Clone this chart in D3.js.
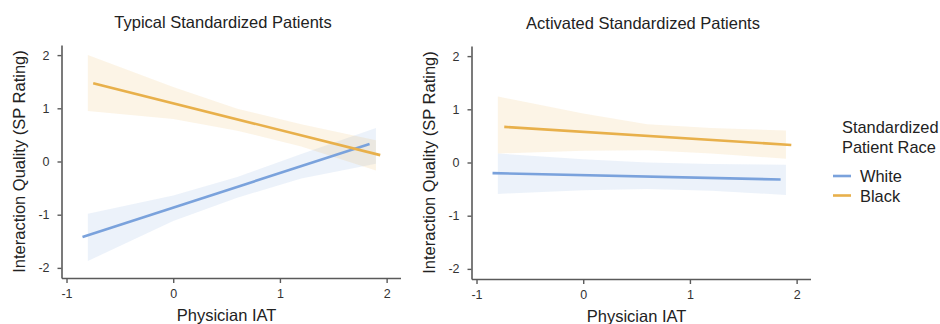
<!DOCTYPE html>
<html>
<head>
<meta charset="utf-8">
<script src="https://cdn.jsdelivr.net/npm/d3@7"></script>
<style>
  body { margin: 0; background: #fff; }
  svg { display: block; font-family: "Liberation Sans", Arial, sans-serif; }
</style>
</head>
<body>
<svg id="chart" width="940" height="324"></svg>
<script>
// data
var iatTicks = [-1, 0, 1, 2];
var qualityTicks = [-2, -1, 0, 1, 2];
var races = ["White", "Black"];
var panelTitles = ["Typical Standardized Patients", "Activated Standardized Patients"];

// confidence bands: IAT positions, lower / upper bound
var bandX = [-0.8, 0, 0.6, 1.2, 1.9];
var typicalWhiteLower = [-1.87, -1.12, -0.68, -0.32, -0.04];
var typicalWhiteUpper = [-0.98, -0.64, -0.29, 0.14, 0.63];
var typicalBlackLower = [0.95, 0.80, 0.58, 0.28, -0.17];
var typicalBlackUpper = [2.00, 1.40, 0.99, 0.70, 0.40];
var activatedWhiteLower = [-0.59, -0.52, -0.50, -0.53, -0.61];
var activatedWhiteUpper = [0.17, 0.06, 0.00, -0.03, -0.04];
var activatedBlackLower = [0.17, 0.22, 0.23, 0.17, 0.07];
var activatedBlackUpper = [1.24, 0.92, 0.72, 0.65, 0.60];

// fitted lines: [iat, quality] end points
var typicalWhiteLine = [[-0.85, -1.42], [1.84, 0.33]];
var typicalBlackLine = [[-0.75, 1.47], [1.94, 0.12]];
var activatedWhiteLine = [[-0.85, -0.20], [1.85, -0.32]];
var activatedBlackLine = [[-0.74, 0.67], [1.95, 0.33]];

var colors = { White: "#7aa2dc", Black: "#e8b04b" };

var svg = d3.select("#chart");

var plotW = 339, plotH = 233;
var x = d3.scaleLinear().domain([-1.047, 2.13]).range([0, plotW]);
var y = d3.scaleLinear().domain([-2.19, 2.19]).range([plotH, 0]);

function bandRows(lower, upper) {
    return bandX.map(function(v, i) { return { x: v, lo: lower[i], hi: upper[i] }; });
}

var area = d3.area()
    .x(function(d) { return x(d.x); })
    .y0(function(d) { return y(d.lo); })
    .y1(function(d) { return y(d.hi); });

var line = d3.line()
    .x(function(d) { return x(d[0]); })
    .y(function(d) { return y(d[1]); });

function drawPanel(left, top, title, titleX, bands, lines) {
    var g = svg.append("g").attr("transform", "translate(" + left + "," + top + ")");

    bands.forEach(function(b) {
        g.append("path")
            .datum(b.rows)
            .attr("d", area)
            .attr("fill", colors[b.race])
            .attr("fill-opacity", 0.14);
    });

    lines.forEach(function(l) {
        g.append("path")
            .datum(l.pts)
            .attr("d", line)
            .attr("fill", "none")
            .attr("stroke", colors[l.race])
            .attr("stroke-width", 2.6);
    });

    var yAxis = g.append("g")
        .call(d3.axisLeft(y).tickValues(qualityTicks).tickSize(4).tickSizeOuter(0).tickPadding(8)
            .tickFormat(function(d) { return String(d); }));
    var xAxis = g.append("g")
        .attr("transform", "translate(0," + plotH + ")")
        .call(d3.axisBottom(x).tickValues(iatTicks).tickSize(5).tickSizeOuter(0).tickPadding(6)
            .tickFormat(function(d) { return String(d); }));

    [yAxis, xAxis].forEach(function(a) {
        a.select(".domain").attr("stroke", "#5a5a5a").attr("stroke-width", 1.6);
        a.selectAll(".tick line").attr("stroke", "#5a5a5a").attr("stroke-width", 1.4);
        a.selectAll(".tick text").attr("fill", "#333").style("font-size", "12.5px")
            .style("font-family", "'Liberation Sans', Arial, sans-serif");
    });

    // panel title, centred a little off the plot middle as in the figure
    g.append("text")
        .attr("x", titleX - left)
        .attr("y", -17)
        .attr("text-anchor", "middle")
        .attr("fill", "#222")
        .style("font-size", "16.5px")
        .text(title);

    g.append("text")
        .attr("transform", "translate(-37," + (plotH / 2) + ") rotate(-90)")
        .attr("text-anchor", "middle")
        .attr("fill", "#222")
        .style("font-size", "16.5px")
        .text("Interaction Quality (SP Rating)");

    g.append("text")
        .attr("x", x(0.5))
        .attr("y", plotH + 43)
        .attr("text-anchor", "middle")
        .attr("fill", "#222")
        .style("font-size", "16.5px")
        .text("Physician IAT");
}

drawPanel(61.5, 45, panelTitles[0], 223,
    [{ race: "White", rows: bandRows(typicalWhiteLower, typicalWhiteUpper) },
     { race: "Black", rows: bandRows(typicalBlackLower, typicalBlackUpper) }],
    [{ race: "White", pts: typicalWhiteLine },
     { race: "Black", pts: typicalBlackLine }]);

drawPanel(471.5, 46, panelTitles[1], 643,
    [{ race: "White", rows: bandRows(activatedWhiteLower, activatedWhiteUpper) },
     { race: "Black", rows: bandRows(activatedBlackLower, activatedBlackUpper) }],
    [{ race: "White", pts: activatedWhiteLine },
     { race: "Black", pts: activatedBlackLine }]);

// legend
var legend = svg.append("g").attr("transform", "translate(842,0)");
legend.append("text").attr("x", 0).attr("y", 132.5).attr("fill", "#222")
    .style("font-size", "16.4px").text("Standardized");
legend.append("text").attr("x", 0).attr("y", 152.5).attr("fill", "#222")
    .style("font-size", "16.4px").text("Patient Race");

var item = legend.selectAll("g.item")
    .data(races)
    .enter().append("g")
    .attr("class", "item")
    .attr("transform", function(d, i) { return "translate(0," + (176 + i * 19.5) + ")"; });
item.append("line")
    .attr("x1", -9).attr("x2", 9)
    .attr("stroke", function(d) { return colors[d]; })
    .attr("stroke-width", 2.6);
item.append("text")
    .attr("x", 18).attr("y", 6)
    .attr("fill", "#222")
    .style("font-size", "16.4px")
    .text(function(d) { return d; });
</script>
</body>
</html>
